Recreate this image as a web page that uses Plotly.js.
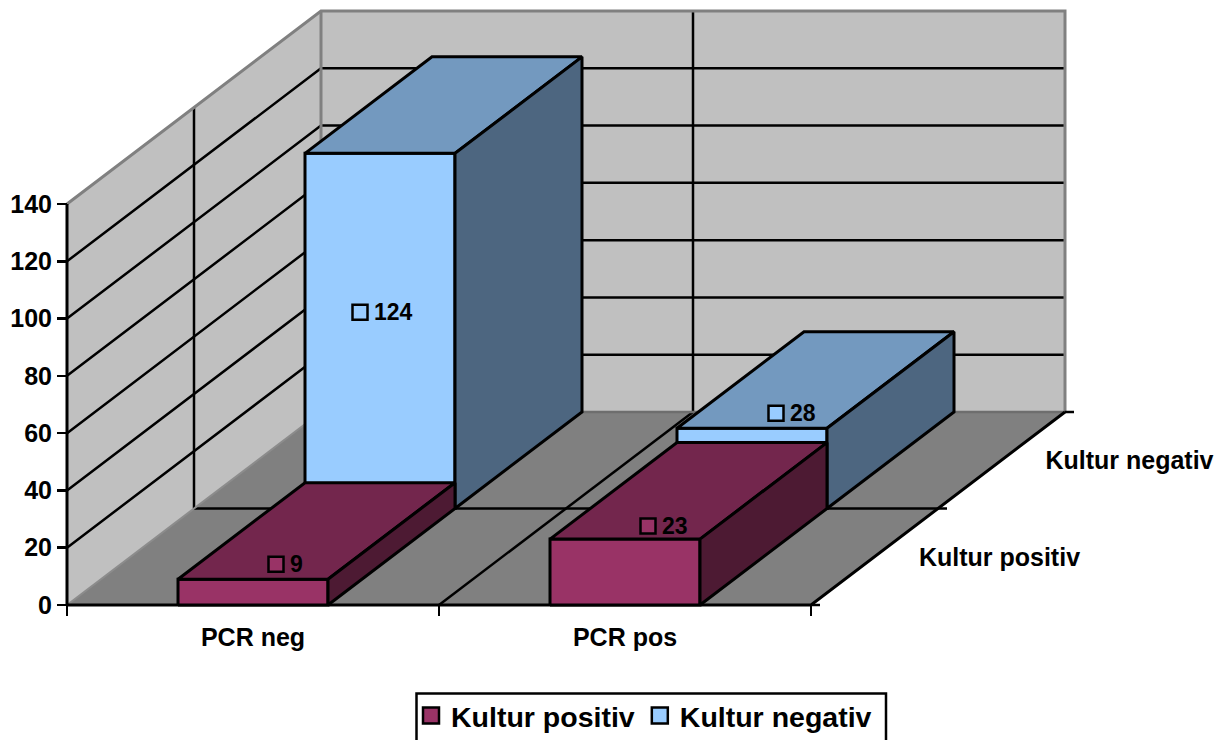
<!DOCTYPE html>
<html>
<head>
<meta charset="utf-8">
<script src="https://cdn.plot.ly/plotly-3.0.1.min.js"></script>
<style>html,body{margin:0;padding:0;background:#fff;overflow:hidden}#chart{width:1219px;height:740px}</style>
</head>
<body>
<div id="chart"></div>
<script>
// Data
const categories = ['PCR neg', 'PCR pos'];
const seriesNames = ['Kultur positiv', 'Kultur negativ'];
const kulturPositiv = [9, 23];
const kulturNegativ = [124, 28];
const valueTicks = [0, 20, 40, 60, 80, 100, 120, 140];

// Geometry of the oblique box (scale of the axes, in pixels)
const W = 1219, H = 740;
const X0 = 67, Y0 = 605, CAT_PX = 372, VAL_PX = 401 / 140;
const DEPTH_DX = 127, DEPTH_DY = 96.5;
const BAR_W = 150 / 372;
const VMAX = 140;
const FONT = 'Liberation Sans, Arial, sans-serif';

const P = (c, d, v) => [c + d * DEPTH_DX / CAT_PX, v + d * DEPTH_DY / VAL_PX];

const shades = [
  {front: '#993366', top: '#73264D', side: '#4D1A33'},
  {front: '#99CCFF', top: '#7399BF', side: '#4D6680'}
];

const traces = [];
function poly(pts, fill, line, w) {
  const xy = pts.map(p => P(p[0], p[1], p[2]));
  if (fill) xy.push(xy[0]);
  traces.push({
    type: 'scatter', mode: line ? 'lines' : 'none',
    x: xy.map(p => p[0]), y: xy.map(p => p[1]),
    fill: fill ? 'toself' : 'none', fillcolor: fill || undefined,
    line: line ? {color: line, width: w || 2.5, simplify: false} : undefined,
    showlegend: false, hoverinfo: 'skip'
  });
}

const nCat = categories.length, nDepth = seriesNames.length;

// Walls and floor
poly([[0,2,0],[nCat,2,0],[nCat,2,VMAX],[0,2,VMAX]], '#C0C0C0', null);
poly([[0,0,0],[0,2,0],[0,2,VMAX],[0,0,VMAX]], '#C0C0C0', null);
poly([[0,0,0],[nCat,0,0],[nCat,2,0],[0,2,0]], '#808080', null);

// Grid lines on the walls
valueTicks.forEach(v => {
  if (v === 0 || v === VMAX) return;
  poly([[0,0,v],[0,2,v],[nCat,2,v]], null, '#000000', 2.5);
});
poly([[1,2,0],[1,2,VMAX]], null, '#000000', 2.5);
poly([[0,1,0],[0,1,VMAX]], null, '#000000', 2.5);
// Grid lines on the floor
poly([[1,0,0],[1,2,0]], null, '#000000', 2.5);
poly([[0,1,0],[nCat,1,0]], null, '#000000', 2.5);

// Wall edges
poly([[0,0,VMAX],[0,2,VMAX],[nCat,2,VMAX],[nCat,2,0]], null, '#808080', 3);
poly([[0,2,VMAX],[0,2,0]], null, '#808080', 3);
poly([[0,2,0],[nCat,2,0]], null, '#6E6E6E', 2.5);
poly([[0,0,0],[0,2,0]], null, '#8C8C8C', 2);

// Floor outline and depth ticks
poly([[0,0,0],[nCat,0,0],[nCat,2,0]], null, '#000000', 3);
[0, 1, 2].forEach(d => poly([[nCat,d,0],[nCat + 9 / CAT_PX,d,0]], null, '#000000', 2.5));
poly([[0,0,0],[0,0,VMAX]], null, '#000000', 3);

// Bars, back series first
const series = [kulturPositiv, kulturNegativ];
for (let d = nDepth - 1; d >= 0; d--) {
  for (let i = 0; i < nCat; i++) {
    const v = series[d][i], a = i + 0.5 - BAR_W / 2, b = i + 0.5 + BAR_W / 2, s = shades[d];
    poly([[a,d,0],[b,d,0],[b,d,v],[a,d,v]], s.front, '#000000', 3);
    poly([[a,d,v],[b,d,v],[b,d+1,v],[a,d+1,v]], s.top, '#000000', 3);
    poly([[b,d,0],[b,d+1,0],[b,d+1,v],[b,d,v]], s.side, '#000000', 3);
  }
}

// Data labels (pixel offsets from the top-front centre of each bar)
const labelNudge = [[[23, -15], [23, -13]], [[-20, 159], [24, -15]]];
series.forEach((vals, d) => {
  const pts = vals.map((v, i) => {
    const n = labelNudge[d][i];
    return P(i + 0.5 + n[0] / CAT_PX, d, v - n[1] / VAL_PX);
  });
  traces.push({
    type: 'scatter', mode: 'markers',
    x: pts.map(p => p[0]), y: pts.map(p => p[1]),
    marker: {symbol: 'square', size: 15, color: shades[d].front, line: {color: '#000000', width: 2.5}},
    showlegend: false, hoverinfo: 'skip'
  });
  traces.push({
    type: 'scatter', mode: 'text',
    x: pts.map(p => p[0] + 14 / CAT_PX), y: pts.map(p => p[1] - 2 / VAL_PX),
    text: vals.map(String), textposition: 'middle right',
    textfont: {family: FONT, size: 23, weight: 700, color: '#000000'},
    showlegend: false, hoverinfo: 'skip'
  });
});

// Depth axis labels
const dl = seriesNames.map((n, d) => P(nCat + 125 / CAT_PX, d + 0.5, -2.5 / VAL_PX));
traces.push({
  type: 'scatter', mode: 'text',
  x: dl.map((p, d) => p[0] + (d ? 3 : 0) / CAT_PX), y: dl.map(p => p[1]), text: seriesNames, textposition: 'middle center',
  textfont: {family: FONT, size: 25, weight: 700, color: '#000000'},
  showlegend: false, hoverinfo: 'skip'
});

// Legend entries
seriesNames.forEach((n, d) => traces.push({
  type: 'scatter', mode: 'markers', x: [null], y: [null], name: n,
  marker: {symbol: 'square', size: 16, color: shades[d].front, line: {color: '#000000', width: 2.5}},
  hoverinfo: 'skip'
}));

const layout = {
  width: W, height: H,
  margin: {l: 0, r: 0, t: 0, b: 0, pad: 0, autoexpand: false},
  paper_bgcolor: '#FFFFFF', plot_bgcolor: 'rgba(0,0,0,0)',
  font: {family: FONT, color: '#000000'},
  xaxis: {
    range: [-X0 / CAT_PX, (W - X0) / CAT_PX],
    anchor: 'free', position: (H - Y0) / H,
    tickmode: 'array', tickvals: categories.map((c, i) => i + 0.5), ticktext: categories,
    ticks: '', ticklabelstandoff: 15,
    tickfont: {family: FONT, size: 25, weight: 700, color: '#000000'},
    minor: {tickmode: 'array', tickvals: [0, 1, 2], ticks: 'outside', ticklen: 10, tickwidth: 2.5, tickcolor: '#000000', showgrid: false},
    showgrid: false, zeroline: false, showline: false, fixedrange: true
  },
  yaxis: {
    range: [-(H - Y0) / VAL_PX, Y0 / VAL_PX],
    anchor: 'free', position: X0 / W,
    tickmode: 'array', tickvals: valueTicks,
    ticks: 'outside', ticklen: 10, tickwidth: 2.5, tickcolor: '#000000',
    tickfont: {family: FONT, size: 25, weight: 700, color: '#000000'},
    showgrid: false, zeroline: false, showline: false, fixedrange: true
  },
  shapes: [{
    type: 'rect', xref: 'paper', yref: 'paper', layer: 'below',
    x0: 416.5 / W, x1: 886 / W, y0: 1 - 760 / H, y1: 1 - 693.5 / H,
    line: {color: '#000000', width: 2.5}, fillcolor: '#FFFFFF'
  }],
  showlegend: true,
  legend: {
    orientation: 'h', x: 411 / W, xanchor: 'left', y: 1 - 690.5 / H, yanchor: 'top',
    bgcolor: 'rgba(0,0,0,0)', borderwidth: 0,
    font: {family: FONT, size: 28.5, weight: 700, color: '#000000'},
    itemsizing: 'trace', itemwidth: 30, traceorder: 'normal'
  },
  hovermode: false
};

Plotly.newPlot('chart', traces, layout, {displayModeBar: false, staticPlot: true});
</script>
</body>
</html>
